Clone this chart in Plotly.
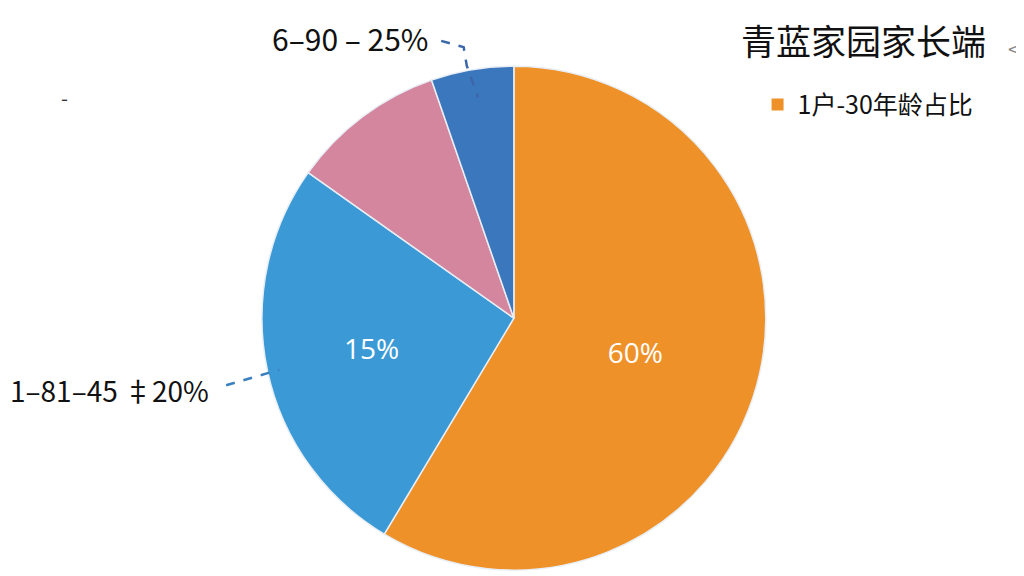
import plotly.graph_objects as go

# slice shares (top, clockwise)
labels = ["1户-30年龄占比", "31-45", "46-60", "6-90"]
values = [58.6, 26.2, 9.9, 5.3]
inside_text = ["60%", "15%", "", ""]
colors = ["#EF9129", "#3B9AD6", "#D4869E", "#3B77BD"]

legend_title = "青蓝家园家长端"
legend_item = "1户-30年龄占比"
label_top = "6–90 – 25%"
label_left = "1–81–45 ‡20%"

FONT = "Noto Sans CJK SC, Noto Sans, sans-serif"

fig = go.Figure()

fig.add_trace(go.Pie(
    labels=labels,
    values=values,
    text=inside_text,
    textinfo="text",
    textposition="inside",
    insidetextorientation="horizontal",
    textfont=dict(color="white", size=28, family="Open Sans, sans-serif"),
    marker=dict(colors=colors, line=dict(color="#E8EEF5", width=1.5)),
    sort=False,
    direction="clockwise",
    rotation=0,
    showlegend=False,
    domain=dict(x=[0.248, 0.740], y=[0.024, 0.899]),
    hoverinfo="label+percent",
))

# dummy trace so the legend shows a single entry
fig.add_trace(go.Scatter(
    x=[None], y=[None], mode="markers", name=legend_item,
    marker=dict(symbol="square", size=12, color=colors[0]),
))

# legend heading sits well above the item, so draw it as its own text
fig.add_annotation(x=0.835, y=0.945, xref="paper", yref="paper", text=legend_title,
                   showarrow=False, xanchor="center", yanchor="middle",
                   font=dict(size=35, color="#111", family=FONT))

# outside labels with dashed leader lines
fig.add_annotation(x=0.256, y=0.948, xref="paper", yref="paper", text=label_top,
                   showarrow=False, xanchor="left", yanchor="middle",
                   font=dict(size=30, color="#111", family=FONT))
fig.add_annotation(x=0.0, y=0.337, xref="paper", yref="paper", text=label_left,
                   showarrow=False, xanchor="left", yanchor="middle",
                   font=dict(size=28, color="#111", family=FONT))
fig.add_shape(type="path", xref="paper", yref="paper",
              path="M 0.423 0.943 L 0.445 0.932 L 0.448 0.9 L 0.459 0.845",
              line=dict(color="#3B66A8", width=2.5, dash="dash"))
fig.add_shape(type="line", xref="paper", yref="paper",
              x0=0.213, y0=0.345, x1=0.265, y1=0.372,
              line=dict(color="#3A7FBE", width=2.5, dash="dash"))

# stray marks from the reference
fig.add_annotation(x=0.05, y=0.845, xref="paper", yref="paper", text="-",
                   showarrow=False, yanchor="middle",
                   font=dict(size=20, color="#333", family=FONT))
fig.add_annotation(x=0.989, y=0.93, xref="paper", yref="paper", text="<",
                   showarrow=False, yanchor="middle",
                   font=dict(size=20, color="#888", family=FONT))

fig.update_layout(
    width=1024, height=576,
    margin=dict(l=0, r=0, t=0, b=0),
    paper_bgcolor="white", plot_bgcolor="white",
    xaxis=dict(visible=False), yaxis=dict(visible=False),
    legend=dict(
        x=0.732, y=0.872, xanchor="left", yanchor="top",
        font=dict(size=25, color="#111", family=FONT),
        bgcolor="rgba(0,0,0,0)",
    ),
)

fig.write_html("out.html")
